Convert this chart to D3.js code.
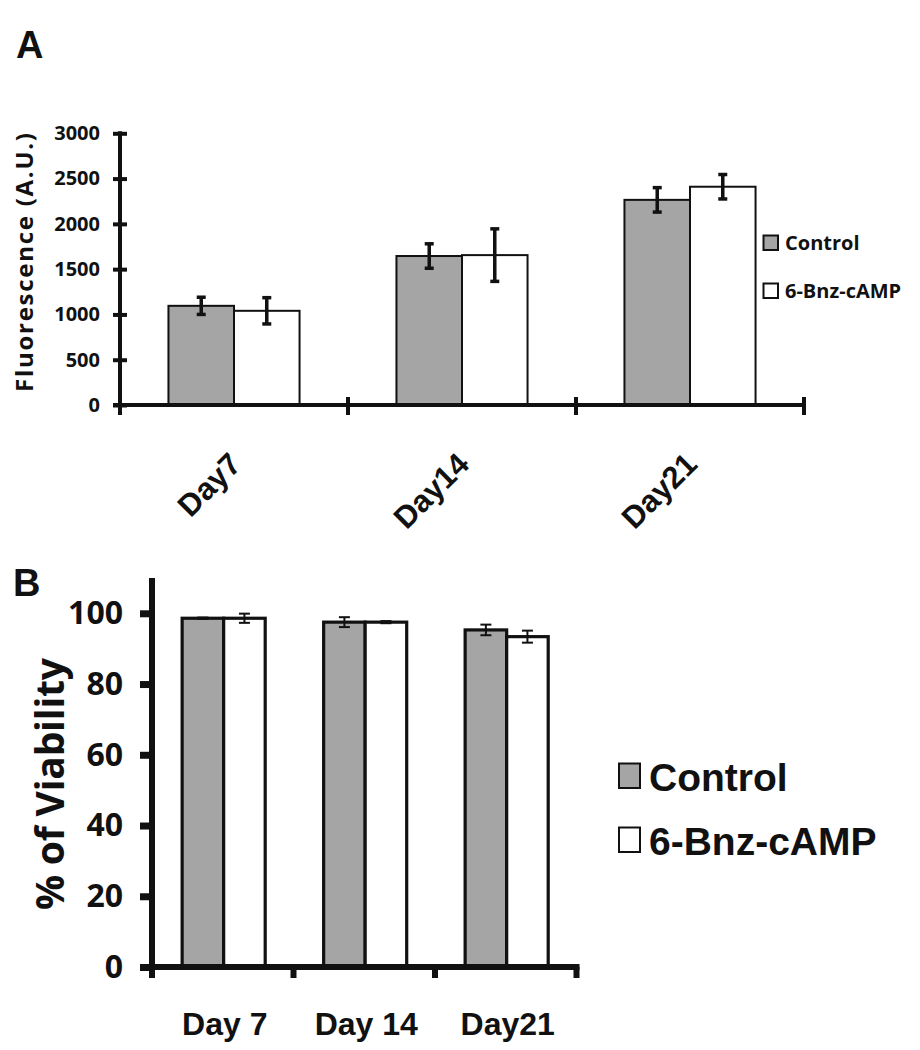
<!DOCTYPE html>
<html>
<head>
<meta charset="utf-8">
<script src="https://cdn.jsdelivr.net/npm/d3@7"></script>
<style>
  html, body { margin: 0; padding: 0; background: #ffffff; }
  svg { display: block; }
</style>
</head>
<body>
<svg id="chart" width="920" height="1050"></svg>
<script>
// ---------------- DATA ----------------
const categoriesA = ["Day7", "Day14", "Day21"];
const categoriesB = ["Day 7", "Day 14", "Day21"];
const series = ["Control", "6-Bnz-cAMP"];

// Panel A: Fluorescence (A.U.)
const fluorControl    = [1095, 1645, 2265];
const fluorControlErr = [95, 135, 135];
const fluorBnz        = [1040, 1655, 2410];
const fluorBnzErr     = [145, 290, 135];
const ticksA = [0, 500, 1000, 1500, 2000, 2500, 3000];

// Panel B: % of Viability
const viabControl    = [98.6, 97.5, 95.3];
const viabControlErr = [0.2, 1.4, 1.5];
const viabBnz        = [98.6, 97.5, 93.4];
const viabBnzErr     = [1.3, 0.3, 1.7];
const ticksB = [0, 20, 40, 60, 80, 100];

// ---------------- STYLE ----------------
const GRAY = "#a5a5a5";
const fills = { "Control": GRAY, "6-Bnz-cAMP": "#ffffff" };
const CAL = "'Open Sans', 'Noto Sans', sans-serif";
const ARIAL = "'Liberation Sans', Arial, sans-serif";
const fmt = d3.format("d");

const svg = d3.select("#chart");
svg.append("rect").attr("width", 920).attr("height", 1050).attr("fill", "#fff");

// ================= PANEL A =================
(function panelA() {
  const g = svg.append("g");
  const x = d3.scaleBand().domain(categoriesA).range([120, 804]);
  const bw = x.bandwidth();
  const xi = d3.scaleBand().domain(series).range([bw * 0.2125, bw * 0.7875]);
  const y = d3.scaleLinear().domain([0, 3000]).range([405, 133.3]);

  const rows = [];
  categoriesA.forEach((c, i) => {
    rows.push({ c, s: "Control", v: fluorControl[i], e: fluorControlErr[i] });
    rows.push({ c, s: "6-Bnz-cAMP", v: fluorBnz[i], e: fluorBnzErr[i] });
  });

  g.selectAll("rect.bar").data(rows).join("rect")
    .attr("class", "bar")
    .attr("x", d => x(d.c) + xi(d.s))
    .attr("y", d => y(d.v))
    .attr("width", xi.bandwidth())
    .attr("height", d => y(0) - y(d.v))
    .attr("fill", d => fills[d.s])
    .attr("stroke", "#111")
    .attr("stroke-width", 2);

  // error bars
  const eb = g.selectAll("g.err").data(rows).join("g").attr("class", "err")
    .attr("stroke", "#111").attr("stroke-width", 3.5);
  const cx = d => x(d.c) + xi(d.s) + xi.bandwidth() / 2;
  eb.append("line").attr("x1", cx).attr("x2", cx)
    .attr("y1", d => y(d.v + d.e)).attr("y2", d => y(d.v - d.e));
  eb.append("line").attr("x1", d => cx(d) - 4.5).attr("x2", d => cx(d) + 4.5)
    .attr("y1", d => y(d.v + d.e)).attr("y2", d => y(d.v + d.e));
  eb.append("line").attr("x1", d => cx(d) - 4.5).attr("x2", d => cx(d) + 4.5)
    .attr("y1", d => y(d.v - d.e)).attr("y2", d => y(d.v - d.e));

  // y axis
  const yAxis = d3.axisLeft(y).tickValues(ticksA).tickFormat(fmt)
    .tickSize(7).tickSizeOuter(0).tickPadding(13);
  const ya = g.append("g").attr("transform", "translate(120,0)").call(yAxis);
  ya.select(".domain").remove();
  ya.selectAll(".tick line").attr("x1", 7).attr("stroke", "#111").attr("stroke-width", 4);
  ya.selectAll(".tick text").attr("font-family", CAL).attr("font-weight", 700)
    .attr("font-size", 20).attr("fill", "#111");
  g.append("line").attr("x1", 120).attr("x2", 120)
    .attr("y1", y(3000) - 2).attr("y2", y(0) + 10)
    .attr("stroke", "#111").attr("stroke-width", 4);

  // x axis
  g.append("line").attr("x1", 113).attr("x2", x.range()[1] + 2)
    .attr("y1", y(0)).attr("y2", y(0)).attr("stroke", "#111").attr("stroke-width", 4);
  const edges = categoriesA.slice(1).map(c => x(c)).concat([x.range()[1]]);
  g.selectAll("line.xt").data(edges).join("line").attr("class", "xt")
    .attr("x1", d => d).attr("x2", d => d)
    .attr("y1", y(0) - 8).attr("y2", y(0) + 10)
    .attr("stroke", "#111").attr("stroke-width", 4);

  g.selectAll("text.xl").data(categoriesA).join("text").attr("class", "xl")
    .attr("transform", c => `translate(${x(c) + bw / 2 + 9},466) rotate(-45)`)
    .attr("text-anchor", "end")
    .attr("font-family", ARIAL).attr("font-weight", 700).attr("font-size", 31)
    .attr("fill", "#111").text(c => c);

  // y title
  g.append("text")
    .attr("transform", "translate(33,262.5) rotate(-90)")
    .attr("text-anchor", "middle")
    .attr("font-family", CAL).attr("font-weight", 700).attr("font-size", 24)
    .attr("textLength", 259).attr("lengthAdjust", "spacing")
    .attr("fill", "#111").text("Fluorescence (A.U.)");

  // legend
  const lg = g.append("g");
  series.forEach((s, i) => {
    lg.append("rect").attr("x", 763.5).attr("y", 235.5 + i * 48)
      .attr("width", 14.5).attr("height", 14.5)
      .attr("fill", fills[s]).attr("stroke", "#111").attr("stroke-width", 2);
    lg.append("text").attr("x", 785).attr("y", 250 + i * 48)
      .attr("font-family", CAL).attr("font-weight", 700).attr("font-size", 20)
      .attr("fill", "#111").text(s);
  });

  svg.append("text").attr("x", 16).attr("y", 58)
    .attr("font-family", ARIAL).attr("font-weight", 700).attr("font-size", 38)
    .attr("fill", "#111").text("A");
})();

// ================= PANEL B =================
(function panelB() {
  const g = svg.append("g");
  const x = d3.scaleBand().domain(categoriesB).range([152, 576.5]);
  const bw = x.bandwidth();
  const xi = d3.scaleBand().domain(series).range([bw * 0.213, bw * 0.80]);
  const y = d3.scaleLinear().domain([0, 100]).range([967, 613.3]);

  const rows = [];
  categoriesB.forEach((c, i) => {
    rows.push({ c, s: "Control", v: viabControl[i], e: viabControlErr[i] });
    rows.push({ c, s: "6-Bnz-cAMP", v: viabBnz[i], e: viabBnzErr[i] });
  });

  g.selectAll("rect.bar").data(rows).join("rect")
    .attr("class", "bar")
    .attr("x", d => x(d.c) + xi(d.s))
    .attr("y", d => y(d.v))
    .attr("width", xi.bandwidth())
    .attr("height", d => y(0) - y(d.v))
    .attr("fill", d => fills[d.s])
    .attr("stroke", "#111")
    .attr("stroke-width", 3.2);

  const eb = g.selectAll("g.err").data(rows).join("g").attr("class", "err")
    .attr("stroke", "#111").attr("stroke-width", 2);
  const cx = d => x(d.c) + xi(d.s) + xi.bandwidth() / 2;
  eb.append("line").attr("x1", cx).attr("x2", cx)
    .attr("y1", d => y(d.v + d.e)).attr("y2", d => y(d.v - d.e));
  eb.append("line").attr("x1", d => cx(d) - 5.5).attr("x2", d => cx(d) + 5.5)
    .attr("y1", d => y(d.v + d.e)).attr("y2", d => y(d.v + d.e));
  eb.append("line").attr("x1", d => cx(d) - 5.5).attr("x2", d => cx(d) + 5.5)
    .attr("y1", d => y(d.v - d.e)).attr("y2", d => y(d.v - d.e));

  const yAxis = d3.axisLeft(y).tickValues(ticksB).tickFormat(fmt)
    .tickSize(12).tickSizeOuter(0).tickPadding(17);
  const ya = g.append("g").attr("transform", "translate(152,0)").call(yAxis);
  ya.select(".domain").remove();
  ya.selectAll(".tick line").attr("stroke", "#111").attr("stroke-width", 7);
  ya.selectAll(".tick text").attr("font-family", CAL).attr("font-weight", 700)
    .attr("font-size", 32).attr("fill", "#111");
  g.append("line").attr("x1", 152).attr("x2", 152)
    .attr("y1", 578).attr("y2", y(0) + 11)
    .attr("stroke", "#111").attr("stroke-width", 6);

  g.append("line").attr("x1", 149).attr("x2", x.range()[1] + 3)
    .attr("y1", y(0)).attr("y2", y(0)).attr("stroke", "#111").attr("stroke-width", 6);
  const edges = categoriesB.slice(1).map(c => x(c)).concat([x.range()[1]]);
  g.selectAll("line.xt").data(edges).join("line").attr("class", "xt")
    .attr("x1", d => d).attr("x2", d => d)
    .attr("y1", y(0)).attr("y2", y(0) + 11)
    .attr("stroke", "#111").attr("stroke-width", 6);

  g.selectAll("text.xl").data(categoriesB).join("text").attr("class", "xl")
    .attr("x", c => x(c) + bw / 2 + 2).attr("y", 1035)
    .attr("text-anchor", "middle")
    .attr("font-family", ARIAL).attr("font-weight", 700).attr("font-size", 32)
    .attr("fill", "#111").text(c => c);

  g.append("text")
    .attr("transform", "translate(64,784) rotate(-90)")
    .attr("text-anchor", "middle")
    .attr("font-family", CAL).attr("font-weight", 700).attr("font-size", 39)
    .attr("textLength", 252).attr("lengthAdjust", "spacing")
    .attr("fill", "#111").text("% of Viability");

  const lg = g.append("g");
  series.forEach((s, i) => {
    lg.append("rect").attr("x", 619).attr("y", 763.5 + i * 64)
      .attr("width", 21).attr("height", 24.5)
      .attr("fill", fills[s]).attr("stroke", "#111").attr("stroke-width", 2);
    lg.append("text").attr("x", 649).attr("y", 791 + i * 64)
      .attr("font-family", ARIAL).attr("font-weight", 700).attr("font-size", 39)
      .attr("fill", "#111").text(s);
  });

  svg.append("text").attr("x", 13).attr("y", 596)
    .attr("font-family", ARIAL).attr("font-weight", 700).attr("font-size", 38)
    .attr("fill", "#111").text("B");
})();
</script>
</body>
</html>
